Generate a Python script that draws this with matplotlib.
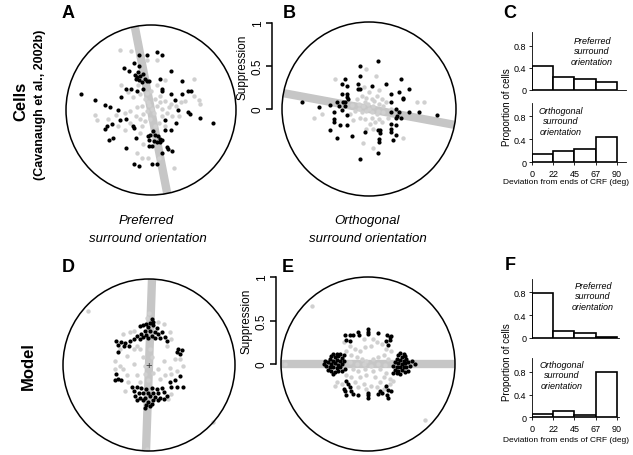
import numpy as np
import matplotlib
matplotlib.use('Agg')
import matplotlib.pyplot as plt
from matplotlib.patches import Circle

plt.rcParams['font.family'] = ['Liberation Sans', 'DejaVu Sans']

W, H = 633, 456

# suppression vectors (x, y), radius of the circle = suppression 1
a_black = [(-0.82, 0.19), (-0.66, 0.12), (-0.54, 0.06), (-0.48, 0.03), (-0.39, 0.00), (-0.36, -0.12),
           (-0.29, -0.10), (-0.46, -0.17), (-0.52, -0.19), (-0.54, -0.22), (-0.45, -0.33), (-0.49, -0.35),
           (-0.30, -0.45), (-0.21, -0.19), (-0.20, -0.21), (-0.18, -0.33), (-0.20, -0.63), (-0.14, -0.66),
           (0.01, -0.63), (0.07, -0.63), (0.13, -0.51), (0.20, -0.46), (0.25, -0.48), (0.07, 0.68),
           (0.13, 0.65), (-0.14, 0.65), (-0.05, 0.65), (-0.32, 0.50), (-0.26, 0.46), (-0.20, 0.55),
           (-0.14, 0.52), (-0.19, 0.41), (-0.16, 0.39), (-0.13, 0.40), (-0.09, 0.42), (-0.18, 0.36),
           (-0.14, 0.35), (-0.07, 0.36), (-0.05, 0.34), (-0.11, 0.33), (-0.15, 0.45), (-0.02, 0.34),
           (-0.29, 0.25), (-0.24, 0.25), (-0.17, 0.22), (-0.09, 0.25), (-0.35, 0.15), (0.11, 0.37),
           (0.13, 0.25), (0.13, 0.22), (0.23, 0.46), (0.37, 0.34), (0.44, 0.22), (0.47, 0.22),
           (0.37, 0.19), (0.28, 0.12), (0.23, 0.19), (0.32, 0.00), (0.44, -0.02), (0.46, -0.05),
           (0.58, -0.09), (0.73, -0.15), (0.16, -0.12), (0.29, -0.15), (0.23, -0.23), (0.17, -0.23),
           (-0.04, -0.31), (-0.01, -0.29), (0.02, -0.25), (0.05, -0.29), (0.08, -0.31), (0.11, -0.34),
           (0.13, -0.35), (-0.02, -0.35), (0.03, -0.37), (0.07, -0.38), (0.01, -0.42), (-0.02, -0.42),
           (0.11, -0.38), (0.19, -0.44)]
a_gray = [(-0.37, 0.71), (-0.23, 0.69), (0.07, 0.59), (-0.05, 0.59), (-0.35, 0.29), (-0.27, 0.21),
          (-0.21, 0.15), (-0.13, 0.19), (-0.07, 0.13), (-0.03, 0.09), (0.05, 0.13), (0.11, 0.17),
          (0.17, 0.11), (0.23, 0.07), (0.29, 0.05), (0.35, 0.09), (0.40, 0.11), (0.50, 0.17),
          (0.56, 0.12), (0.58, 0.07), (-0.66, -0.06), (-0.63, -0.12), (-0.51, -0.11), (-0.41, -0.06),
          (-0.31, -0.03), (-0.25, -0.01), (-0.17, 0.03), (-0.11, 0.05), (-0.05, -0.01), (0.01, 0.01),
          (0.07, 0.05), (0.13, 0.01), (0.19, -0.03), (0.25, -0.07), (0.33, -0.07), (-0.31, -0.23),
          (-0.25, -0.15), (-0.13, -0.11), (-0.09, -0.05), (-0.07, -0.13), (-0.01, -0.11), (0.09, -0.15),
          (0.17, -0.19), (-0.11, -0.19), (-0.13, -0.27), (-0.17, -0.50), (-0.11, -0.56), (-0.03, -0.56),
          (0.09, -0.56), (0.27, -0.68), (-0.09, -0.40), (0.05, -0.19), (0.13, -0.07), (-0.15, 0.29),
          (0.07, 0.29), (0.17, 0.35), (0.50, 0.37), (-0.39, -0.19), (-0.05, 0.20), (0.00, 0.22),
          (0.03, -0.03), (-0.02, 0.06), (0.10, 0.09), (-0.18, -0.07), (0.21, 0.03)]

b_black = [(0.10, 0.55), (-0.10, 0.49), (-0.10, 0.38), (-0.28, 0.34), (-0.31, 0.29), (-0.25, 0.26),
           (-0.13, 0.29), (-0.13, 0.23), (-0.10, 0.23), (0.04, 0.26), (0.20, 0.29), (0.37, 0.34),
           (0.34, 0.20), (0.46, 0.23), (0.25, 0.17), (0.39, 0.13), (0.39, 0.11), (-0.31, 0.17),
           (-0.25, 0.17), (-0.25, 0.14), (-0.24, 0.11), (-0.37, 0.08), (-0.30, 0.08), (-0.28, 0.08),
           (-0.45, 0.05), (-0.57, 0.02), (-0.77, 0.08), (-0.34, 0.03), (-0.31, -0.01), (-0.28, 0.03),
           (-0.40, -0.04), (-0.25, -0.07), (-0.40, -0.12), (-0.40, -0.15), (-0.33, -0.18), (-0.25, -0.18),
           (-0.45, -0.24), (-0.37, -0.33), (-0.19, -0.31), (-0.05, -0.26), (-0.10, -0.57), (0.10, -0.24),
           (0.13, -0.24), (0.13, -0.28), (0.11, -0.34), (0.11, -0.38), (0.10, -0.51), (0.25, 0.08),
           (0.25, -0.04), (0.31, 0.00), (0.34, -0.04), (0.32, -0.08), (0.31, -0.10), (0.37, -0.10),
           (0.46, -0.04), (0.58, -0.04), (0.78, -0.07), (0.25, -0.17), (0.31, -0.18), (0.25, -0.23),
           (0.31, -0.30), (0.28, -0.36), (0.25, -0.27)]
b_gray = [(-0.39, 0.34), (-0.04, 0.46), (0.08, 0.38), (-0.63, -0.10), (-0.54, -0.06), (0.55, 0.08),
          (0.63, 0.08), (0.39, -0.33), (-0.07, -0.39), (0.05, -0.45), (-0.14, 0.11), (-0.08, 0.15),
          (-0.03, 0.13), (0.03, 0.11), (0.09, 0.15), (0.15, 0.12), (0.20, 0.08), (-0.12, 0.06),
          (-0.07, 0.04), (-0.01, 0.06), (0.05, 0.03), (0.11, 0.06), (0.16, 0.03), (-0.16, -0.02),
          (-0.08, -0.04), (-0.03, -0.02), (0.03, -0.04), (0.09, -0.06), (0.16, -0.04), (-0.10, -0.10),
          (-0.05, -0.11), (0.03, -0.10), (0.11, -0.11), (-0.18, -0.13), (0.01, -0.17), (0.07, -0.15),
          (0.15, -0.15), (-0.03, -0.23), (0.05, -0.23), (-0.20, 0.05), (-0.22, -0.06), (0.22, -0.10),
          (0.00, 0.20), (-0.06, 0.25), (0.12, 0.22), (0.25, 0.00), (0.10, -0.02), (-0.12, 0.00),
          (0.00, 0.00), (0.06, 0.09), (-0.05, 0.08)]

d_black = [(0.03, 0.53), (0.05, 0.50), (0.01, 0.49), (-0.03, 0.48), (-0.07, 0.46), (-0.10, 0.45),
           (-0.01, 0.44), (0.05, 0.46), (0.09, 0.43), (-0.05, 0.40), (0.01, 0.39), (0.07, 0.38),
           (-0.09, 0.36), (-0.03, 0.35), (0.04, 0.34), (0.11, 0.36), (0.15, 0.38), (-0.07, 0.32),
           (-0.01, 0.31), (0.07, 0.31), (0.13, 0.31), (0.19, 0.33), (-0.14, 0.34), (-0.18, 0.30),
           (-0.10, 0.30), (0.21, 0.28), (-0.38, 0.28), (-0.32, 0.27), (-0.28, 0.26), (-0.22, 0.28),
           (-0.36, 0.15), (-0.29, 0.22), (-0.23, 0.22), (-0.36, 0.23), (0.34, 0.19), (0.38, 0.18),
           (0.33, 0.15), (0.36, 0.13), (-0.38, -0.10), (-0.36, -0.16), (-0.32, -0.17), (-0.40, -0.18),
           (0.36, -0.13), (0.30, -0.18), (0.24, -0.20), (0.26, -0.26), (0.32, -0.26), (0.39, -0.25),
           (-0.20, -0.25), (-0.14, -0.26), (-0.09, -0.27), (-0.03, -0.28), (0.03, -0.27), (0.09, -0.28),
           (0.15, -0.27), (-0.18, -0.30), (-0.12, -0.32), (-0.07, -0.33), (-0.01, -0.33), (0.05, -0.32),
           (0.11, -0.33), (0.17, -0.31), (-0.16, -0.36), (-0.10, -0.38), (-0.05, -0.38), (0.01, -0.36),
           (0.07, -0.37), (0.13, -0.38), (-0.14, -0.41), (-0.07, -0.41), (-0.01, -0.43), (0.05, -0.41),
           (0.11, -0.41), (-0.03, -0.47), (0.01, -0.48), (-0.05, -0.50), (0.03, -0.45), (0.17, -0.40),
           (0.21, -0.36)]
d_gray = [(-0.30, 0.36), (-0.34, 0.19), (-0.40, 0.05), (-0.40, -0.05), (-0.34, -0.01), (-0.26, 0.11),
          (-0.18, 0.19), (-0.14, 0.22), (0.21, 0.22), (0.26, 0.30), (0.24, 0.38), (0.17, 0.48),
          (0.11, 0.50), (-0.18, 0.40), (-0.22, 0.38), (0.30, 0.07), (0.36, 0.07), (0.40, -0.01),
          (0.32, -0.07), (0.24, -0.03), (0.26, -0.10), (0.19, -0.12), (-0.26, -0.12), (-0.30, -0.05),
          (-0.24, -0.20), (-0.28, -0.30), (0.26, -0.34), (0.22, -0.40), (-0.10, 0.19), (-0.07, 0.09),
          (-0.05, -0.01), (-0.05, -0.10), (0.01, 0.19), (-0.01, -0.18), (0.05, -0.09), (0.03, 0.09),
          (-0.18, 0.01), (0.17, 0.05), (0.11, -0.05), (-0.14, -0.12), (-0.10, -0.20), (0.13, -0.16),
          (-0.71, 0.63), (0.74, -0.66), (-0.02, -0.98), (0.00, 0.60), (-0.02, 0.55)]

e_black = [(-0.40, 0.11), (-0.36, 0.12), (-0.32, 0.11), (-0.28, 0.10), (-0.42, 0.09), (-0.38, 0.08),
           (-0.34, 0.09), (-0.30, 0.07), (-0.44, 0.06), (-0.40, 0.04), (-0.36, 0.05), (-0.32, 0.03),
           (-0.28, 0.04), (-0.49, 0.03), (-0.46, 0.02), (-0.42, 0.00), (-0.38, 0.01), (-0.34, -0.01),
           (-0.30, 0.00), (-0.51, 0.00), (-0.48, -0.02), (-0.44, -0.04), (-0.40, -0.03), (-0.36, -0.05),
           (-0.32, -0.04), (-0.46, -0.07), (-0.42, -0.08), (-0.38, -0.09), (-0.34, -0.08), (-0.40, -0.11),
           (-0.30, -0.08), (-0.26, -0.06), (0.37, 0.13), (0.41, 0.11), (0.35, 0.10), (0.39, 0.08),
           (0.43, 0.09), (0.33, 0.06), (0.37, 0.05), (0.41, 0.04), (0.44, 0.06), (0.31, 0.02),
           (0.35, 0.01), (0.39, 0.00), (0.43, 0.01), (0.46, 0.02), (0.50, 0.03), (0.54, 0.00),
           (0.29, -0.02), (0.33, -0.03), (0.37, -0.04), (0.41, -0.03), (0.44, -0.04), (0.48, -0.02),
           (0.31, -0.07), (0.35, -0.08), (0.39, -0.07), (0.43, -0.09), (0.46, -0.08), (0.33, -0.10),
           (0.37, -0.11), (0.29, -0.10), (-0.26, 0.33), (-0.21, 0.33), (-0.17, 0.33), (-0.25, 0.28),
           (-0.21, 0.26), (-0.12, 0.37), (-0.10, 0.33), (0.00, 0.40), (0.00, 0.37), (0.00, 0.34),
           (0.12, 0.36), (0.22, 0.33), (0.25, 0.31), (0.27, 0.32), (0.21, 0.26), (0.23, 0.22),
           (0.25, 0.28), (-0.25, -0.19), (-0.23, -0.23), (-0.21, -0.27), (-0.26, -0.31), (-0.28, -0.29),
           (-0.19, -0.31), (-0.17, -0.34), (-0.25, -0.36), (-0.11, -0.36), (0.00, -0.33), (0.00, -0.36),
           (0.00, -0.39), (0.14, -0.31), (0.16, -0.33), (0.12, -0.34), (0.23, -0.30), (0.27, -0.31),
           (0.22, -0.36), (0.21, -0.25), (0.23, -0.39)]
e_gray = [(-0.28, 0.25), (-0.21, 0.21), (-0.15, 0.17), (-0.09, 0.15), (-0.03, 0.19), (0.04, 0.21),
          (0.10, 0.25), (0.16, 0.23), (0.21, 0.17), (0.27, 0.15), (-0.25, 0.15), (-0.19, 0.10),
          (-0.13, 0.08), (-0.07, 0.06), (-0.02, 0.04), (0.06, 0.06), (0.12, 0.08), (0.18, 0.10),
          (0.23, 0.06), (-0.21, 0.02), (-0.13, 0.00), (-0.05, 0.00), (0.04, -0.02), (0.12, 0.00),
          (0.20, -0.01), (-0.17, -0.06), (-0.11, -0.08), (-0.03, -0.06), (0.06, -0.08), (0.14, -0.06),
          (0.21, -0.10), (-0.25, -0.13), (-0.19, -0.15), (-0.09, -0.15), (-0.02, -0.13), (0.08, -0.15),
          (0.18, -0.15), (0.25, -0.17), (-0.36, -0.21), (-0.30, -0.23), (-0.15, -0.21), (-0.05, -0.23),
          (0.04, -0.25), (0.14, -0.21), (0.25, -0.23), (0.29, -0.19), (-0.38, -0.25), (0.10, -0.27),
          (-0.11, -0.27), (-0.02, -0.29), (-0.05, 0.29), (0.06, 0.29), (0.18, -0.29), (-0.64, 0.67),
          (0.66, -0.64), (-0.95, 0.00)]

# orientation of the gray axis line (deg)
band_angles = {'A': 101, 'B': -10.5, 'D': 88, 'E': 0}

# histograms: proportion of cells per deviation bin
bin_edges = [0, 22.5, 45, 67.5]
bin_labels = ['0', '22', '45', '67', '90']
c_pref = [0.44, 0.23, 0.19, 0.14]
c_orth = [0.15, 0.19, 0.23, 0.44]
f_pref = [0.79, 0.12, 0.08, 0.02]
f_orth = [0.06, 0.11, 0.04, 0.80]


def rect(x0, y0, x1, y1):
    return [x0 / W, 1 - y1 / H, (x1 - x0) / W, (y1 - y0) / H]


def ftext(x, y, s, **kw):
    fig.text(x / W, 1 - y / H, s, **kw)


def polar_panel(cx, cy, r, gray, black, angle):
    lim = 1.04
    ax = fig.add_axes(rect(cx - r * lim, cy - r * lim, cx + r * lim, cy + r * lim))
    ax.set_xlim(-lim, lim)
    ax.set_ylim(-lim, lim)
    ax.axis('off')
    ax.add_patch(Circle((0, 0), 1, fill=False, ec='black', lw=1.1, zorder=4))
    a = np.deg2rad(angle)
    band, = ax.plot([-1.1 * np.cos(a), 1.1 * np.cos(a)], [-1.1 * np.sin(a), 1.1 * np.sin(a)],
                    color='#c6c6c6', lw=6, solid_capstyle='butt', zorder=1)
    band.set_clip_path(Circle((0, 0), 1, transform=ax.transData))
    g = np.array(gray)
    b = np.array(black)
    ax.scatter(g[:, 0], g[:, 1], s=10, c='#d0d0d0', linewidths=0, zorder=2)
    ax.scatter(b[:, 0], b[:, 1], s=9, c='black', linewidths=0, zorder=3)
    return ax


def scale_bar(x, y_top, y_bot):
    ax = fig.add_axes(rect(x, y_top, x + 8, y_bot))
    ax.patch.set_visible(False)
    ax.set_ylim(0, 1)
    ax.set_xticks([])
    for s in ['top', 'right', 'bottom']:
        ax.spines[s].set_visible(False)
    ax.spines['left'].set_linewidth(1.1)
    ax.set_yticks([0, 0.5, 1], ['0', '0.5', '1'])
    ax.tick_params(axis='y', length=4, width=1.1, labelsize=8.5, pad=2)
    for t in ax.get_yticklabels():
        t.set_rotation(90)
        t.set_va('center')
    ax.set_ylabel('Suppression', fontsize=8.5, labelpad=2)


def hist_panel(x0, y_zero, unit, xmax, vals, ticks):
    ymax = 1.04
    ax = fig.add_axes(rect(x0, y_zero - ymax * unit, x0 + xmax * 0.944, y_zero))
    ax.bar(bin_edges, vals, width=22.5, align='edge', facecolor='white',
           edgecolor='black', lw=1.2)
    ax.set_xlim(0, xmax)
    ax.set_ylim(0, ymax)
    for s in ['top', 'right']:
        ax.spines[s].set_visible(False)
    ax.spines['left'].set_linewidth(0.6)
    ax.spines['bottom'].set_linewidth(0.6)
    ax.set_yticks([0, 0.4, 0.8], ['0', '0.4', '0.8'])
    ax.tick_params(axis='y', length=2.5, width=0.6, labelsize=6.5, pad=1.5)
    if ticks:
        ax.set_xticks([0, 22.5, 45, 67.5, 90], bin_labels)
        ax.tick_params(axis='x', length=2.5, width=0.6, labelsize=6.5, pad=2)
    else:
        ax.set_xticks([])
    return ax


fig = plt.figure(figsize=(W / 100, H / 100), dpi=100)

polar_panel(151, 111, 85, a_gray, a_black, band_angles['A'])
polar_panel(369, 110, 87, b_gray, b_black, band_angles['B'])
polar_panel(149, 366, 86, d_gray, d_black, band_angles['D'])
polar_panel(368, 365, 87, e_gray, e_black, band_angles['E'])

# small plus at the centre of D
ftext(149, 366, '+', ha='center', va='center', fontsize=8, color='#333333')

scale_bar(272, 24, 110)
scale_bar(276, 278, 365)

hist_panel(532, 91, 55.4, 100, c_pref, False)
hist_panel(532, 163.3, 57.5, 100, c_orth, True)
hist_panel(532, 339, 57, 92, f_pref, False)
hist_panel(532, 418.3, 57, 92, f_orth, True)

lab = dict(fontsize=6.5, style='italic', ha='center', va='center', linespacing=1.15)
ftext(592, 52, 'Preferred\nsurround\norientation', **lab)
ftext(561, 122, 'Orthogonal\nsurround\norientation', **lab)
ftext(593, 297, 'Preferred\nsurround\norientation', **lab)
ftext(562, 376, 'Orthogonal\nsurround\norientation', **lab)

for yc, yd in [(107, 183), (362, 441)]:
    ftext(507, yc, 'Proportion of cells', rotation=90, fontsize=7, ha='center', va='center')
    ftext(566, yd, 'Deviation from ends of CRF (deg)', fontsize=6, ha='center', va='center')

mid = dict(fontsize=9.5, style='italic', ha='center', va='center')
ftext(146, 221, 'Preferred', **mid)
ftext(148, 239, 'surround orientation', **mid)
ftext(367, 221, 'Orthogonal', **mid)
ftext(368, 239, 'surround orientation', **mid)

row = dict(rotation=90, fontweight='bold', ha='center', va='center')
ftext(21, 101, 'Cells', fontsize=12, **row)
ftext(40, 105, '(Cavanaugh et al., 2002b)', fontsize=9, **row)
ftext(28, 366, 'Model', fontsize=12, **row)

letter = dict(fontsize=13, fontweight='bold', ha='left', va='center')
for s, x, y in [('A', 62, 14), ('B', 283, 14), ('C', 503, 13), ('D', 62, 267), ('E', 282, 267), ('F', 505, 266)]:
    ftext(x, y, s, **letter)

fig.savefig('out.png', dpi=100)
